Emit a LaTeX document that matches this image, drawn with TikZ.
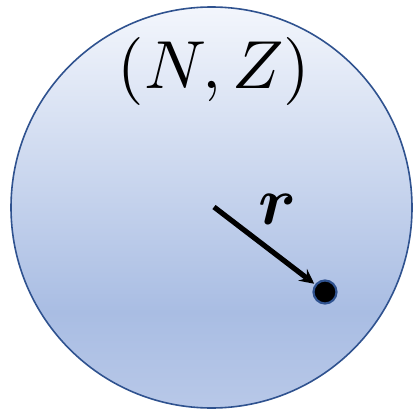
\documentclass[tikz,border=0pt]{standalone}
\usepackage{amsmath,bm}
\definecolor{edgeblue}{HTML}{2F528F}
\definecolor{topblue}{HTML}{F3F6FC}
\definecolor{darkblue}{HTML}{A9BDE3}
\definecolor{lowblue}{HTML}{B8C8E8}
\pgfdeclareverticalshading{ballshade}{100bp}{color(0bp)=(lowblue); color(25bp)=(lowblue); color(37bp)=(darkblue); color(75bp)=(topblue); color(100bp)=(topblue)}
\begin{document}
\begin{tikzpicture}[>=stealth, x=1pt, y=-1pt]
            \useasboundingbox (0,0) rectangle (412,414);
            \node[circle,draw=edgeblue,line width=1.6pt,shading=ballshade,minimum size=401pt,inner sep=0pt] (ball) at (211.5,207.5) {};
            \node[scale=6.8] (nz) at (214,72) {$(N,Z)$};
            \node[scale=6.8] (r) at (278,209) {$\bm{r}$};
            \coordinate (ctr) at (214,207);
            \node[circle,fill=black,draw=edgeblue,line width=2.2pt,minimum size=23pt,inner sep=0pt] (pt) at (325,292) {};
            \draw[->,line width=5.2pt,shorten >=1pt] (ctr) -- (pt);
        \end{tikzpicture}
\end{document}
